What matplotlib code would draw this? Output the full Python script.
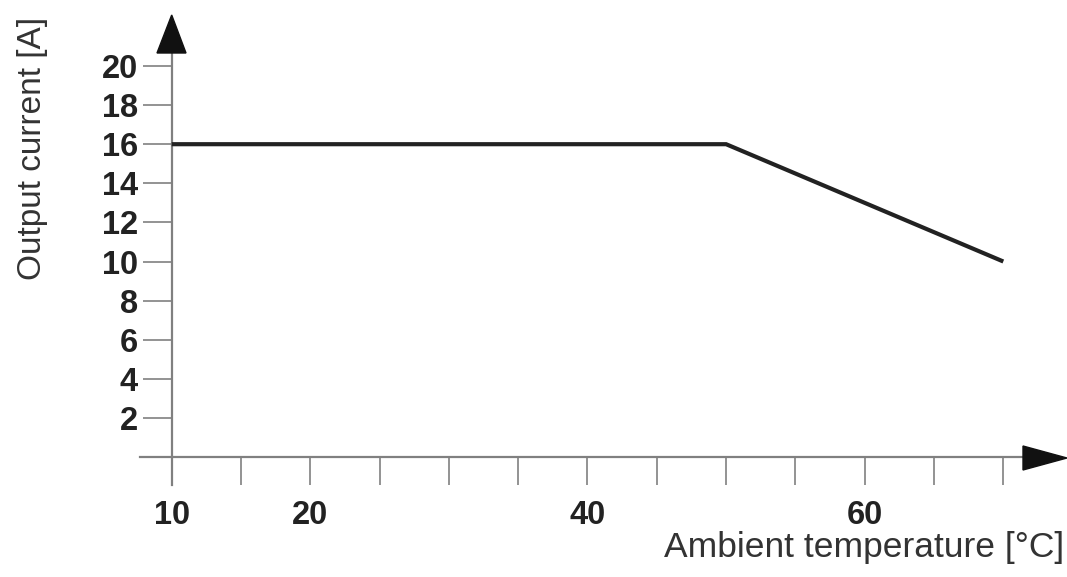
import matplotlib
matplotlib.use("Agg")
import matplotlib.pyplot as plt
from matplotlib.patches import Polygon

# Data
temperature = [10, 50, 70]
current = [16, 16, 10]
x_major = [10, 20, 40, 60]
x_minor = [15, 25, 30, 35, 45, 50, 55, 65, 70]
y_ticks = [2, 4, 6, 8, 10, 12, 14, 16, 18, 20]

W, H = 1067, 577
fig = plt.figure(figsize=(W / 100, H / 100), dpi=100)
ax = fig.add_axes([0, 0, 1, 1])
ax.set_facecolor("white")

# pixel mapping (from top-left)
x0px, xppu = 171.7, 13.86
y0px, yppu = 457.0, 19.55
ax.set_xlim(10 - x0px / xppu, 10 + (W - x0px) / xppu)
ax.set_ylim(-(H - y0px) / yppu, y0px / yppu)

def px2d(px, py):
    return 10 + (px - x0px) / xppu, (y0px - py) / yppu

axis_color = "#808080"
line_color = "#222222"

ax.plot(temperature, current, color=line_color, lw=3.0, solid_joinstyle="miter",
        solid_capstyle="butt", zorder=5)

for s in ["top", "right"]:
    ax.spines[s].set_visible(False)
ax.spines["bottom"].set_position(("data", 0))
ax.spines["left"].set_position(("data", 10))
ax.spines["bottom"].set_bounds(px2d(140, 0)[0], px2d(1030, 0)[0])
ax.spines["left"].set_bounds(px2d(0, 485)[1], px2d(0, 45)[1])
for s in ["bottom", "left"]:
    ax.spines[s].set_color(axis_color)
    ax.spines[s].set_linewidth(1.6)

ax.set_xticks(x_major)
ax.set_xticks(x_minor, minor=True)
ax.set_yticks(y_ticks)
ax.tick_params(axis="x", which="both", direction="out", length=20, width=1.2,
               color=axis_color, pad=11)
ax.tick_params(axis="y", which="both", direction="out", length=21, width=1.2,
               color=axis_color, pad=3.5)
ax.set_xticklabels([str(v) for v in x_major])
ax.set_yticklabels([str(v) for v in y_ticks])
for lab in ax.get_xticklabels() + ax.get_yticklabels():
    lab.set_fontfamily("Liberation Sans")
    lab.set_fontweight("bold")
    lab.set_fontsize(23.5)
    lab.set_color("#222222")

# arrows
up = [px2d(157, 53), px2d(186, 53), px2d(171.7, 15)]
right = [px2d(1023, 446), px2d(1023, 470), px2d(1067, 458)]
for tri in (up, right):
    ax.add_patch(Polygon(tri, closed=True, color="#111111", zorder=6, clip_on=False))

fig.text(1064 / W, 1 - 557 / H, "Ambient temperature [°C]", ha="right", va="baseline",
         fontsize=25.5, family="Liberation Sans", color="#333333")
fig.text(33 / W, 1 - 148 / H, "Output current [A]", ha="center", va="center",
         rotation=90, fontsize=24, family="Liberation Sans", color="#333333")

fig.savefig("out.png", dpi=100)
